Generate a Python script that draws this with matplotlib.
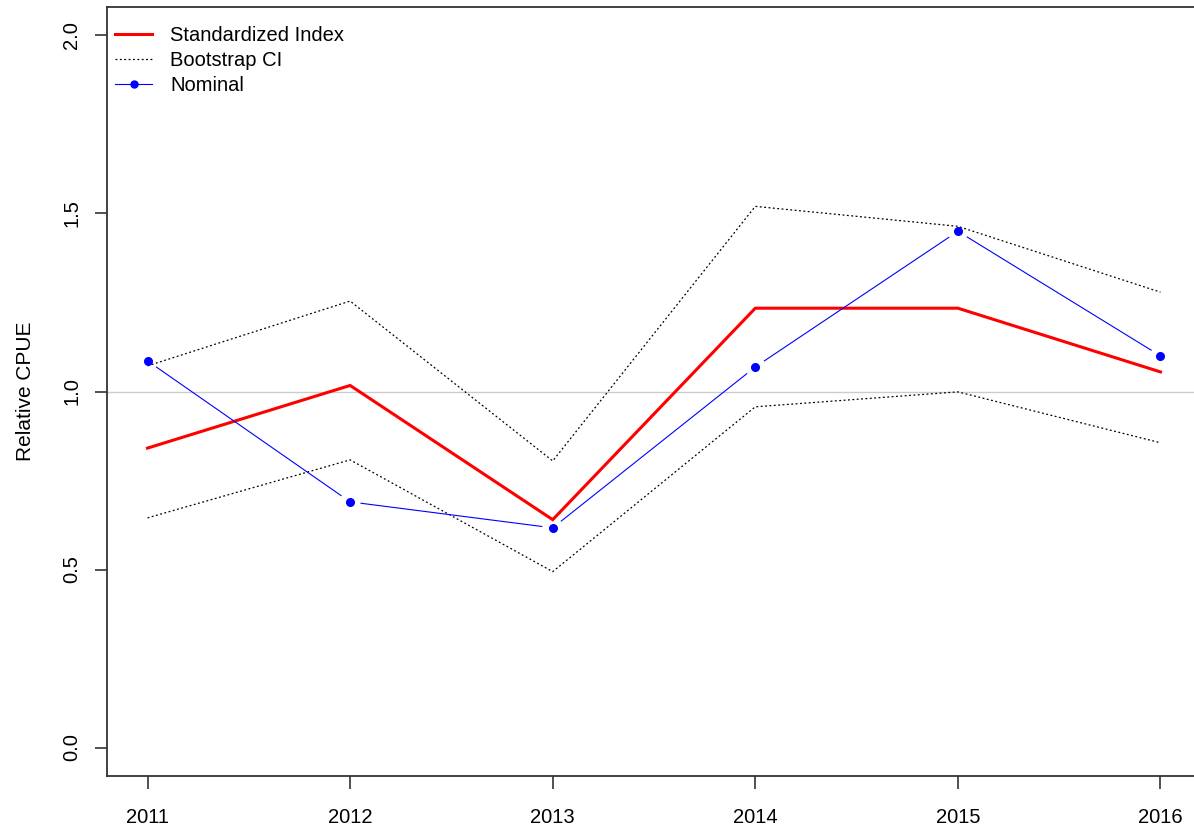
import matplotlib
matplotlib.use("Agg")
import matplotlib.pyplot as plt
import numpy as np
from matplotlib.lines import Line2D

years = [2011, 2012, 2013, 2014, 2015, 2016]
standardized = [0.841, 1.017, 0.640, 1.234, 1.234, 1.055]
ci_upper = [1.072, 1.254, 0.805, 1.520, 1.464, 1.279]
ci_lower = [0.645, 0.808, 0.494, 0.957, 0.999, 0.856]
nominal = [1.086, 0.690, 0.617, 1.069, 1.450, 1.100]
ytick_vals = [0.0, 0.5, 1.0, 1.5, 2.0]
ytick_labels = ["0.0", "0.5", "1.0", "1.5", "2.0"]

plt.rcParams['font.family'] = ['Liberation Sans', 'DejaVu Sans']

fig = plt.figure(figsize=(11.94, 8.31), dpi=100)
ax = fig.add_axes([107/1194, 1-776/831, (1201-107)/1194, (776-7)/831])
ax.set_xlim(2010.8, 2016.2)
ax.set_ylim(-0.08, 2.08)

ax.axhline(1.0, color='#cccccc', lw=1.0, zorder=1)

ax.plot(years, standardized, color='red', lw=2.2, zorder=3, solid_joinstyle='miter')
ax.plot(years, ci_upper, color='black', lw=0.9, ls=(0, (1.5, 2)), zorder=2)
ax.plot(years, ci_lower, color='black', lw=0.9, ls=(0, (1.5, 2)), zorder=2)

# Nominal: type "b" style (points with gaps in connecting line)
ax.plot(years, nominal, ls='none', marker='o', ms=5.5, color='blue', zorder=4)
fig.canvas.draw()
trans = ax.transData
inv = trans.inverted()
pts = trans.transform(np.column_stack([years, nominal]))
gap = 11.0
for i in range(len(pts) - 1):
    p0, p1 = pts[i], pts[i + 1]
    d = p1 - p0
    L = np.hypot(*d)
    if L <= 2 * gap:
        continue
    u = d / L
    a = inv.transform(p0 + u * gap)
    b = inv.transform(p1 - u * gap)
    ax.plot([a[0], b[0]], [a[1], b[1]], color='blue', lw=0.8, zorder=4)

ax.set_xticks(years)
ax.set_xticklabels([str(y) for y in years], fontsize=14.5)
ax.set_yticks(ytick_vals)
ax.set_yticklabels(ytick_labels, fontsize=14.5, rotation=90, va='center')
ax.tick_params(axis='both', direction='out', length=9, width=1.2, color='#333333')
ax.tick_params(axis='x', pad=14)
ax.tick_params(axis='y', pad=9.5)
for s in ax.spines.values():
    s.set_color('#333333')
    s.set_linewidth(1.3)
ax.set_ylabel('Relative CPUE', fontsize=15, labelpad=20)

handles = [
    Line2D([], [], color='red', lw=2.2),
    Line2D([], [], color='black', lw=0.9, ls=(0, (1.5, 2))),
    Line2D([], [], color='blue', lw=0.8, marker='o', ms=5),
]
ax.legend(handles, ['Standardized Index', 'Bootstrap CI', 'Nominal'], loc='upper left',
          bbox_to_anchor=(8/1094, 1 - 19/769),
          frameon=False, fontsize=14.5, handlelength=1.85, handletextpad=0.9,
          labelspacing=0.3, borderaxespad=0, borderpad=0)

fig.savefig('out.png', dpi=100)
